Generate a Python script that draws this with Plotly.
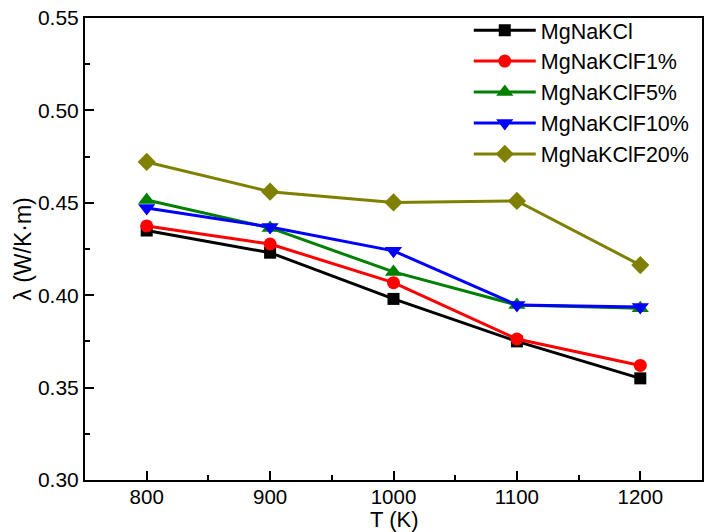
import plotly.graph_objects as go

# Temperature (K) and thermal conductivity (W/K·m) for each salt mixture
temps = [800, 900, 1000, 1100, 1200]
mgnakcl = [0.435, 0.423, 0.398, 0.375, 0.355]
mgnakclf1 = [0.4375, 0.4277, 0.4068, 0.3763, 0.3620]
mgnakclf5 = [0.4515, 0.4364, 0.4126, 0.3947, 0.3930]
mgnakclf10 = [0.4472, 0.4369, 0.4240, 0.3947, 0.3936]
mgnakclf20 = [0.4721, 0.4560, 0.4502, 0.4510, 0.4163]

series = [
    ("MgNaKCl", mgnakcl, "#000000", "square", 12),
    ("MgNaKClF1%", mgnakclf1, "#ff0000", "circle", 13),
    ("MgNaKClF5%", mgnakclf5, "#008000", "triangle-up", 15),
    ("MgNaKClF10%", mgnakclf10, "#0000ff", "triangle-down", 15),
    ("MgNaKClF20%", mgnakclf20, "#808000", "diamond", 14),
]

fig = go.Figure()
for name, vals, color, symbol, msize in series:
    fig.add_trace(go.Scatter(
        x=temps, y=vals, name=name, mode="lines+markers",
        line=dict(color=color, width=3),
        marker=dict(symbol=symbol, size=msize, color=color),
    ))

axis_common = dict(
    showline=True, linecolor="#000000", linewidth=2, mirror=True,
    ticks="inside", ticklen=9, tickwidth=2, tickcolor="#000000",
    showgrid=False, zeroline=False,
)

fig.update_layout(
    width=706, height=532,
    margin=dict(l=85, r=2, t=18, b=52),
    paper_bgcolor="white", plot_bgcolor="white",
    font=dict(family="Liberation Sans, Arial", color="#000000"),
    xaxis=dict(
        range=[750, 1250], tickvals=[800, 900, 1000, 1100, 1200],
        minor=dict(tickvals=[850, 950, 1050, 1150], ticks="inside",
                   ticklen=5, tickwidth=2, tickcolor="#000000"),
        tickfont=dict(size=20.5, color="#000000"),
        ticklabelstandoff=-3,
        **axis_common,
    ),
    yaxis=dict(
        range=[0.30, 0.55], tickvals=[0.30, 0.35, 0.40, 0.45, 0.50, 0.55],
        tickformat=".2f",
        minor=dict(tickvals=[0.325, 0.375, 0.425, 0.475, 0.525], ticks="inside",
                   ticklen=5, tickwidth=2, tickcolor="#000000"),
        tickfont=dict(size=21, color="#000000"),
        title=dict(text="λ (W/K·m)", font=dict(size=23), standoff=0),
        **axis_common,
    ),
    legend=dict(
        x=0.622, y=1.018, xanchor="left", yanchor="top",
        borderwidth=0, bgcolor="rgba(0,0,0,0)",
        font=dict(size=21.5), tracegroupgap=0, itemwidth=62,
    ),
)

# x-axis title sits just under the tick labels
fig.add_annotation(
    text="T (K)", xref="paper", yref="paper", x=0.5, y=0,
    xanchor="center", yanchor="top", yshift=-25, showarrow=False,
    font=dict(size=22, color="#000000"),
)

fig.write_html("out.html")
